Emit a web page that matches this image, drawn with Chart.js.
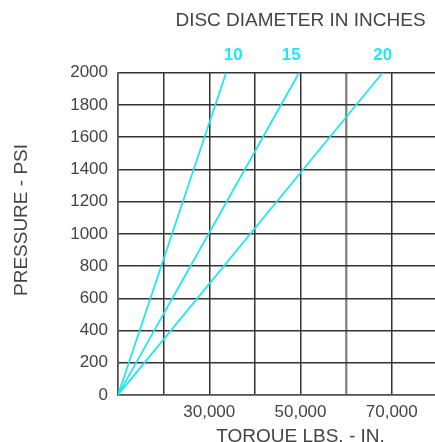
<!DOCTYPE html>
<html>
<head>
<meta charset="utf-8">
<script src="https://cdn.jsdelivr.net/npm/chart.js@4"></script>
<style>
  html, body { margin: 0; padding: 0; background: #fff; overflow: hidden; }
  #wrap { width: 490px; height: 448px; }
</style>
</head>
<body>
<div id="wrap"><canvas id="torqueChart"></canvas></div>
<script>
// disc diameters (inches) and the pressure / torque end points of each line
var diameters = ['10', '15', '20'];
var pressure = [0, 2000];
var torque10 = [10000, 33700];
var torque15 = [10000, 49700];
var torque20 = [10000, 68000];
var xLabels = [30000, 50000, 70000];

var ink = '#444';
var cyan = '#22e6f0';
var font = 'Liberation Sans, Arial, Helvetica, sans-serif';

function points(xs) {
    var pts = [];
    for (let i = 0; i < xs.length; i++) {
        pts.push({ x: xs[i], y: pressure[i] });
    }
    return pts;
}

// diameter numbers above the top of each line, plus the rotated y title
var lineLabels = {
    id: 'lineLabels',
    afterDraw(chart, args, opts) {
        var c = chart.ctx;
        var area = chart.chartArea;
        c.save();
        c.fillStyle = cyan;
        c.font = 'bold 17px ' + font;
        c.textAlign = 'center';
        c.textBaseline = 'middle';
        chart.data.datasets.forEach(function (ds, i) {
            var meta = chart.getDatasetMeta(i);
            var last = meta.data[meta.data.length - 1];
            c.fillText(ds.label, last.x + opts.shift[i], area.top - 17);
        });
        c.fillStyle = ink;
        c.font = '19px ' + font;
        c.translate(22, 220);
        c.rotate(-Math.PI / 2);
        c.fillText('PRESSURE - PSI', 0, 0);
        c.restore();
    }
};

new Chart(document.getElementById('torqueChart'), {
    type: 'scatter',
    data: {
        datasets: [
            { label: diameters[0], data: points(torque10) },
            { label: diameters[1], data: points(torque15) },
            { label: diameters[2], data: points(torque20) }
        ]
    },
    options: {
        responsive: true,
        maintainAspectRatio: false,
        animation: false,
        showLine: true,
        borderColor: cyan,
        borderWidth: 1.8,
        pointRadius: 0,
        layout: { padding: { right: 7 } },
        plugins: {
            legend: { display: false },
            tooltip: { enabled: false },
            title: {
                display: true,
                text: 'DISC DIAMETER IN INCHES',
                fullSize: false,
                color: ink,
                font: { family: font, size: 19, weight: 'normal' },
                padding: { top: 9, bottom: 41 }
            },
            lineLabels: { shift: [7, -8, 0] }
        },
        scales: {
            x: {
                type: 'linear',
                min: 10000,
                max: 90000,
                border: { color: '#555', width: 1.5 },
                grid: {
                    drawTicks: false,
                    lineWidth: function (ctx) {
                        return ctx.tick && ctx.tick.value === 60000 ? 2.5 : 1.5;
                    },
                    color: function (ctx) {
                        return ctx.tick && ctx.tick.value === 60000 ? '#8a8a8a' : '#333';
                    }
                },
                ticks: {
                    stepSize: 10000,
                    padding: 7,
                    color: ink,
                    font: { family: font, size: 17 },
                    maxRotation: 0,
                    autoSkip: false,
                    callback: function (v) {
                        return xLabels.indexOf(v) >= 0 ? v.toLocaleString('en-US') : '';
                    }
                },
                title: {
                    display: true,
                    text: 'TORQUE LBS. - IN.',
                    color: ink,
                    font: { family: font, size: 19 },
                    padding: { top: 3, bottom: 0 }
                },
                afterFit: function (scale) {
                    scale.height = 53;
                }
            },
            y: {
                min: 0,
                max: 2000,
                border: { color: '#555', width: 1.5 },
                grid: { drawTicks: false, color: '#333', lineWidth: 1.5 },
                ticks: {
                    stepSize: 200,
                    padding: 10,
                    color: ink,
                    font: { family: font, size: 17 },
                    callback: function (v) { return String(v); }
                },
                afterFit: function (scale) {
                    scale.width = 118;
                }
            }
        }
    },
    plugins: [lineLabels]
});
</script>
</body>
</html>
